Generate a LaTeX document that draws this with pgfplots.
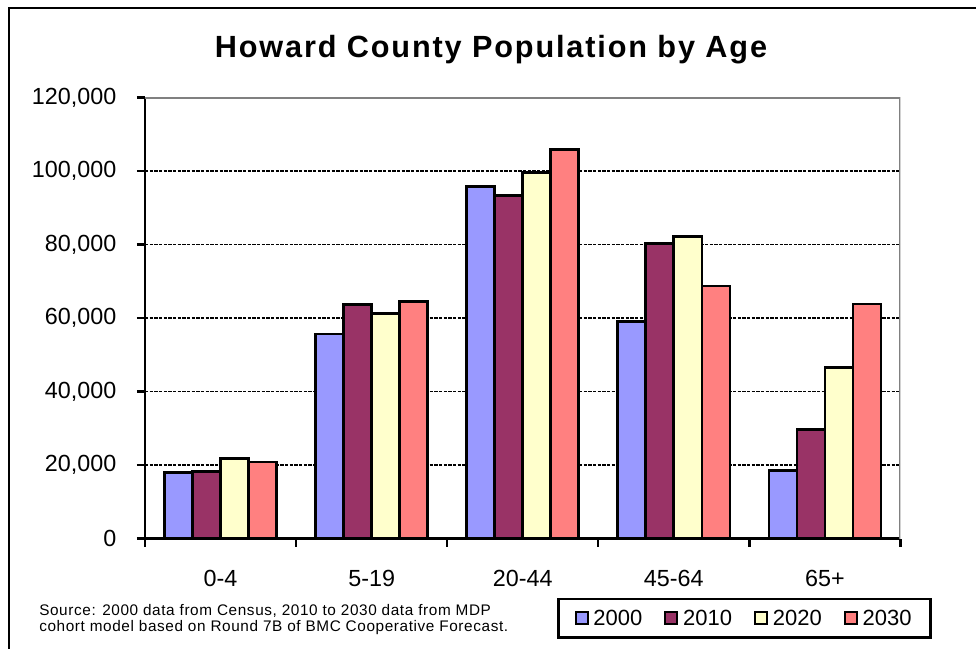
\documentclass[border=0pt]{standalone}
\usepackage{fontspec}
\setmainfont{Liberation Sans}
\usepackage{pgfplots}
\pgfplotsset{compat=1.18}
\definecolor{c2000}{HTML}{9999FF}
\definecolor{c2010}{HTML}{993366}
\definecolor{c2020}{HTML}{FFFFCC}
\definecolor{c2030}{HTML}{FF8080}
\definecolor{bordergray}{HTML}{808080}

\begin{document}
\begin{tikzpicture}
\useasboundingbox (0,0) rectangle (732pt,-486.75pt);
\draw[line width=1.5pt] (6.75pt,-500pt) -- (6.75pt,-6pt) -- (740pt,-6pt);
\node[anchor=base, inner sep=0pt, font=\fontsize{23}{27}\selectfont\bfseries\addfontfeature{LetterSpace=6}] at (368.25pt,-43.5pt) {Howard County Population by Age};
\node[anchor=base west, inner sep=0pt, font=\fontsize{11.5}{12}\selectfont\addfontfeature{LetterSpace=4}] at (29.25pt,-461.25pt) {Source: 2000 data from Census, 2010 to 2030 data from MDP};
\node[anchor=base west, inner sep=0pt, font=\fontsize{11.5}{12}\selectfont\addfontfeature{LetterSpace=4}] at (29.25pt,-473.25pt) {cohort model based on Round 7B of BMC Cooperative Forecast.};
\begin{axis}[
  at={(108.75pt,-403.875pt)}, anchor=south west,
  scale only axis, width=566.6pt, height=330.75pt,
  xmin=-0.5, xmax=4.5, ymin=0, ymax=120000,
  axis lines*=left,
  axis line style={line width=1.8pt, black},
  ybar=0pt, bar width=0.1854,
  xtick={0,1,2,3,4}, xticklabels={0-4,5-19,20-44,45-64,65+},
  major x tick style={draw=none},
  minor xtick={-0.5,0.5,1.5,2.5,3.5,4.5},
  minor x tick style={line width=1.8pt, black},
  major y tick style={line width=1.8pt, black},
  minor tick length=6pt, major tick length=6pt,
  tick align=outside,
  ytick={0,20000,40000,60000,80000,100000,120000},
  ymajorgrids,
  major grid style={line width=1.3pt, black, dash pattern=on 2.5pt off 1pt},
  scaled y ticks=false,
  tick label style={font=\fontsize{17.5}{20}\selectfont, black},
  yticklabel style={/pgf/number format/.cd, fixed, 1000 sep={,}, assume math mode=true, /tikz/.cd, xshift=-12pt},
  xticklabel style={yshift=-14pt},
  legend columns=4,
  legend style={at={(axis description cs:0.5457,-0.1342)}, anchor=north west,
    draw=black, line width=2pt, font=\fontsize{16.5}{19}\selectfont,
    inner xsep=12pt, inner ysep=6pt,
    /tikz/every odd column/.append style={column sep=1.5pt},
    /tikz/every even column/.append style={column sep=14.5pt}},
  legend image code/.code={\draw[#1,line width=1.6pt] (0pt,-4.5pt) rectangle (9pt,4.5pt);},
]
\addplot[fill=c2000, draw=black, line width=2pt] coordinates {(0,18000) (1,55650) (2,95730) (3,59000) (4,18450)};
\addplot[fill=c2010, draw=black, line width=2pt] coordinates {(0,18290) (1,63730) (2,93280) (3,80330) (4,29710)};
\addplot[fill=c2020, draw=black, line width=2pt] coordinates {(0,21720) (1,61280) (2,99540) (3,82120) (4,46590)};
\addplot[fill=c2030, draw=black, line width=2pt] coordinates {(0,20820) (1,64440) (2,105900) (3,68710) (4,63810)};
\legend{2000,2010,2020,2030}
\draw[bordergray, line width=2pt] (rel axis cs:0,1) -- (rel axis cs:1,1) -- (rel axis cs:1,0);
\end{axis}
\end{tikzpicture}
\end{document}
